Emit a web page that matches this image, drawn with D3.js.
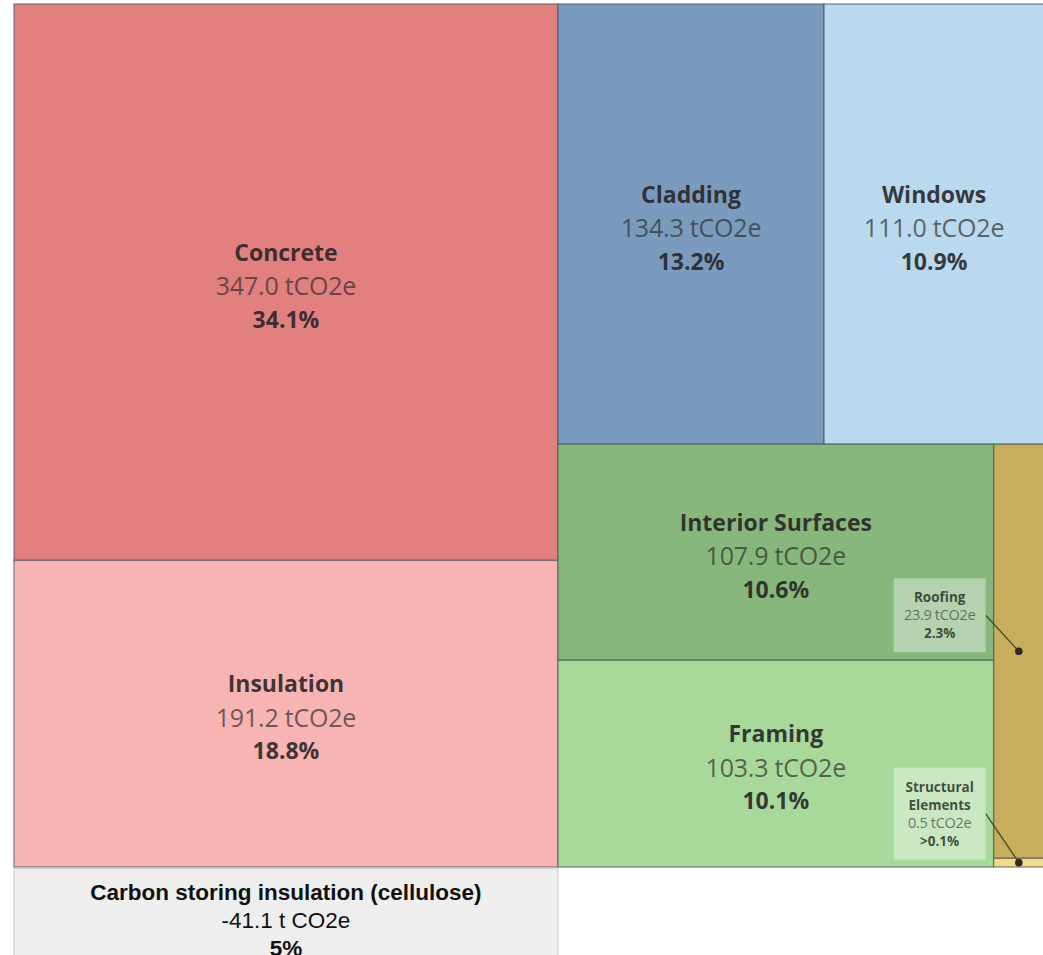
<!DOCTYPE html>
<html>
<head>
<meta charset="utf-8">
<script src="https://cdn.jsdelivr.net/npm/d3@7"></script>
<style>
  body { margin: 0; background: #ffffff; }
  svg { display: block; }
</style>
</head>
<body>
<script>
// Embodied carbon by building component (tCO2e)
const categories = ["Concrete", "Insulation", "Cladding", "Windows",
                    "Interior Surfaces", "Framing", "Roofing", "Structural Elements"];
const values     = [347.0, 191.2, 134.3, 111.0, 107.9, 103.3, 23.9, 0.5];
const pctLabels  = ["34.1%", "18.8%", "13.2%", "10.9%", "10.6%", "10.1%", "2.3%", ">0.1%"];
// nesting of the treemap blocks (left column / right: top row, bottom row of two columns)
const blockPaths = ["L", "L", "R/T", "R/T", "R/B/G", "R/B/G", "R/B/Y", "R/B/Y"];
const colors     = ["#e27f7f", "#f8b4b2", "#7b9bbe", "#bad8ee",
                    "#87b77b", "#a9d89b", "#c6ae5b", "#f4d98b"];

// carbon stored by cellulose insulation (shown below the treemap)
const storageLabel = "Carbon storing insulation (cellulose)";
const storageValue = -41.1;
const storagePct   = "5%";

const W = 1043, H = 955;
const chartX = 14, chartY = 4, chartW = 1030, chartH = 863;

const svg = d3.select("body").append("svg")
  .attr("width", W).attr("height", H);

// build nested hierarchy from block paths
const rootData = { name: "root", children: [] };
categories.forEach((name, i) => {
  let node = rootData;
  blockPaths[i].split("/").forEach(part => {
    let child = node.children.find(c => c.name === part);
    if (!child) { child = { name: part, children: [] }; node.children.push(child); }
    node = child;
  });
  node.children.push({ name, value: values[i], index: i });
});

const root = d3.hierarchy(rootData).sum(d => d.value || 0);
d3.treemap().tile(d3.treemapSliceDice).size([chartW, chartH]).round(false)(root);

const g = svg.append("g").attr("transform", `translate(${chartX},${chartY})`);
const leaves = root.leaves();

g.selectAll("rect.cell").data(leaves).join("rect")
  .attr("class", "cell")
  .attr("x", d => d.x0).attr("y", d => d.y0)
  .attr("width", d => d.x1 - d.x0).attr("height", d => d.y1 - d.y0)
  .attr("fill", d => colors[d.data.index])
  .attr("stroke", "rgba(70,80,90,0.6)")
  .attr("stroke-width", 1.4);

const fontFam = "'Open Sans', 'Noto Sans', sans-serif";
const fmt = v => v.toFixed(1);

// labels inside large cells
const big = leaves.filter(d => d.x1 - d.x0 >= 100);
const lineGap = 33.5;
big.forEach(d => {
  const cx = (d.x0 + d.x1) / 2, cy = (d.y0 + d.y1) / 2 + 4;
  const i = d.data.index;
  const t = g.append("g").attr("font-family", fontFam).attr("text-anchor", "middle");
  t.append("text").attr("x", cx).attr("y", cy - lineGap).attr("dy", "0.36em")
    .attr("font-size", 23).attr("font-weight", 700).attr("fill", "rgba(35,35,35,0.88)")
    .text(categories[i]);
  t.append("text").attr("x", cx).attr("y", cy).attr("dy", "0.36em")
    .attr("font-size", 25).attr("font-weight", 400).attr("fill", "rgba(45,45,45,0.7)")
    .attr("letter-spacing", "-0.2px")
    .text(`${fmt(values[i])} tCO2e`);
  t.append("text").attr("x", cx).attr("y", cy + lineGap).attr("dy", "0.36em")
    .attr("font-size", 23).attr("font-weight", 700).attr("fill", "rgba(35,35,35,0.88)")
    .text(pctLabels[i]);
});

// callouts for narrow cells
const small = leaves.filter(d => d.x1 - d.x0 < 100);
const calloutDy = [-36, -49];
const boxW = 92, lineH = 18;
small.forEach((d, k) => {
  const i = d.data.index;
  const dotX = (d.x0 + d.x1) / 2, dotY = (d.y0 + d.y1) / 2;
  const titleLines = categories[i].length > 10 ? categories[i].split(" ") : [categories[i]];
  const lines = [
    ...titleLines.map(s => ({ s, w: 700, c: "rgba(40,50,40,0.85)" })),
    { s: `${fmt(values[i])} tCO2e`, w: 400, c: "rgba(60,75,60,0.72)" },
    { s: pctLabels[i], w: 700, c: "rgba(40,50,40,0.85)" }
  ];
  const boxH = lines.length * lineH + 20;
  const bx1 = d.x0 - 8, bx0 = bx1 - boxW;
  const bcy = dotY + calloutDy[k];
  const by0 = bcy - boxH / 2;

  g.append("line")
    .attr("x1", bx1).attr("y1", bcy).attr("x2", dotX).attr("y2", dotY)
    .attr("stroke", "#3a4a30").attr("stroke-width", 1.2);
  g.append("circle").attr("cx", dotX).attr("cy", dotY).attr("r", 3.8).attr("fill", "#2a2a22");
  g.append("rect")
    .attr("x", bx0).attr("y", by0).attr("width", boxW).attr("height", boxH)
    .attr("fill", "rgba(255,255,255,0.38)");
  const t = g.append("g").attr("font-family", fontFam).attr("text-anchor", "middle");
  lines.forEach((ln, j) => {
    t.append("text")
      .attr("x", (bx0 + bx1) / 2)
      .attr("y", by0 + 10 + lineH * (j + 0.5)).attr("dy", "0.36em")
      .attr("font-size", ln.w === 700 ? 13.5 : 14.5).attr("font-weight", ln.w)
      .attr("fill", ln.c).attr("letter-spacing", ln.w === 400 ? "-0.3px" : null)
      .text(ln.s);
  });
});

// storage box below the left column
const leftBlock = root.children[0];
const sx0 = chartX + leftBlock.x0, sx1 = chartX + leftBlock.x1;
const sy0 = chartY + chartH + 1.5;
svg.append("rect")
  .attr("x", sx0).attr("y", sy0).attr("width", sx1 - sx0).attr("height", H - sy0 + 10)
  .attr("fill", "#eeeeee").attr("stroke", "#d4d4d4").attr("stroke-width", 1.2);
const st = svg.append("g")
  .attr("font-family", "'Liberation Sans', Arial, sans-serif")
  .attr("text-anchor", "middle").attr("fill", "#111");
const scx = (sx0 + sx1) / 2;
st.append("text").attr("x", scx).attr("y", 892).attr("dy", "0.35em")
  .attr("font-size", 22.5).attr("font-weight", 700).text(storageLabel);
st.append("text").attr("x", scx).attr("y", 920).attr("dy", "0.35em")
  .attr("font-size", 22.5).text(`${storageValue.toFixed(1)} t CO2e`);
st.append("text").attr("x", scx).attr("y", 948).attr("dy", "0.35em")
  .attr("font-size", 22.5).attr("font-weight", 700).text(storagePct);
</script>
</body>
</html>
